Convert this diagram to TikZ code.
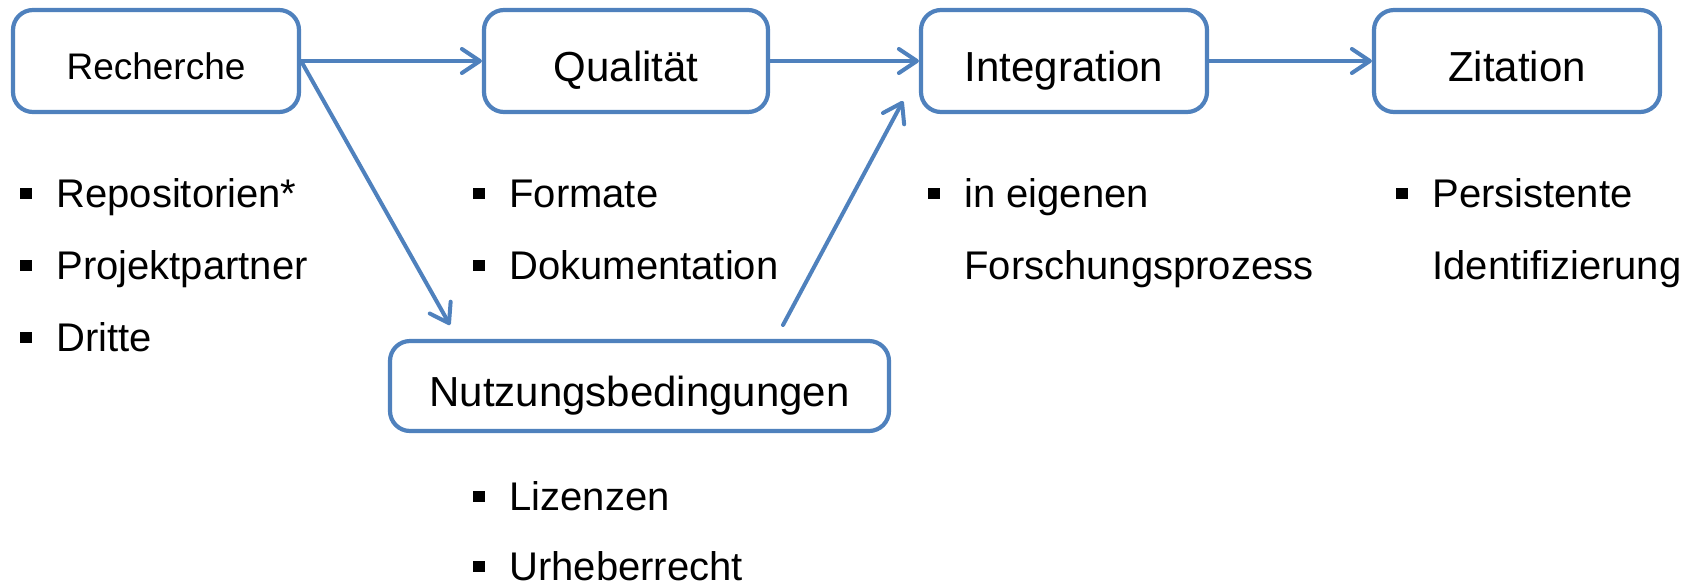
\documentclass[tikz,border=0pt]{standalone}
\usepackage{fontspec}
\setmainfont{Liberation Sans}
\usetikzlibrary{arrows.meta}
\definecolor{boxblue}{HTML}{4F81BD}
\newcommand{\bul}{\makebox[18pt][l]{\rule[4pt]{5.75pt}{5.75pt}}}
\tikzset{
  stepbox/.style={draw=boxblue, line width=2.1pt, rounded corners=10pt, fill=white,
    minimum width=143pt, minimum height=51pt, inner sep=0pt, text height=20pt, text depth=0pt,
    font=\fontsize{21}{25}\selectfont},
  flow/.style={draw=boxblue, line width=2pt, line cap=round, -{Straight Barb[length=9pt,width=12pt,line width=2pt,round]}},
  item/.style={anchor=base west, inner sep=0pt, font=\fontsize{20}{24}\selectfont}
}
\begin{document}
\begin{tikzpicture}[x=0.5pt,y=-0.5pt]
\useasboundingbox (0,0) rectangle (1697,585);
\node[stepbox, font=\fontsize{18.5}{22}\selectfont, text height=18pt] (rech) at (156,61) {Recherche};
\node[stepbox, minimum width=142pt] (qual) at (626,61) {Qualität};
\node[stepbox] (integ) at (1064,61) {Integration};
\node[stepbox] (zit) at (1517,61) {Zitation};
\node[stepbox, minimum width=249.5pt, minimum height=45pt] (nutz) at (639.5,386) {Nutzungsbedingungen};

\coordinate (tipN) at (450,325);
\coordinate (startI) at (783,325);
\coordinate (tipI) at (903,101);

\draw[flow] (rech.east) -- (qual.west);
\draw[flow] (qual.east) -- (integ.west);
\draw[flow] (integ.east) -- (zit.west);
\draw[flow] (rech.east) -- (tipN);
\draw[flow] (startI) -- (tipI);

\node[item] (r1) at (20,207) {\bul Repositorien*};
\node[item] (r2) at (20,279) {\bul Projektpartner};
\node[item] (r3) at (20,351) {\bul Dritte};

\node[item] (q1) at (473,207) {\bul Formate};
\node[item] (q2) at (473,279) {\bul Dokumentation};

\node[item] (i1) at (928,207) {\bul in eigenen};
\node[item] (i2) at (964,279) {Forschungsprozess};

\node[item] (z1) at (1396,207) {\bul Persistente};
\node[item] (z2) at (1432,279) {Identifizierung};

\node[item] (n1) at (473,510) {\bul Lizenzen};
\node[item] (n2) at (473,580) {\bul Urheberrecht};
\end{tikzpicture}
\end{document}
